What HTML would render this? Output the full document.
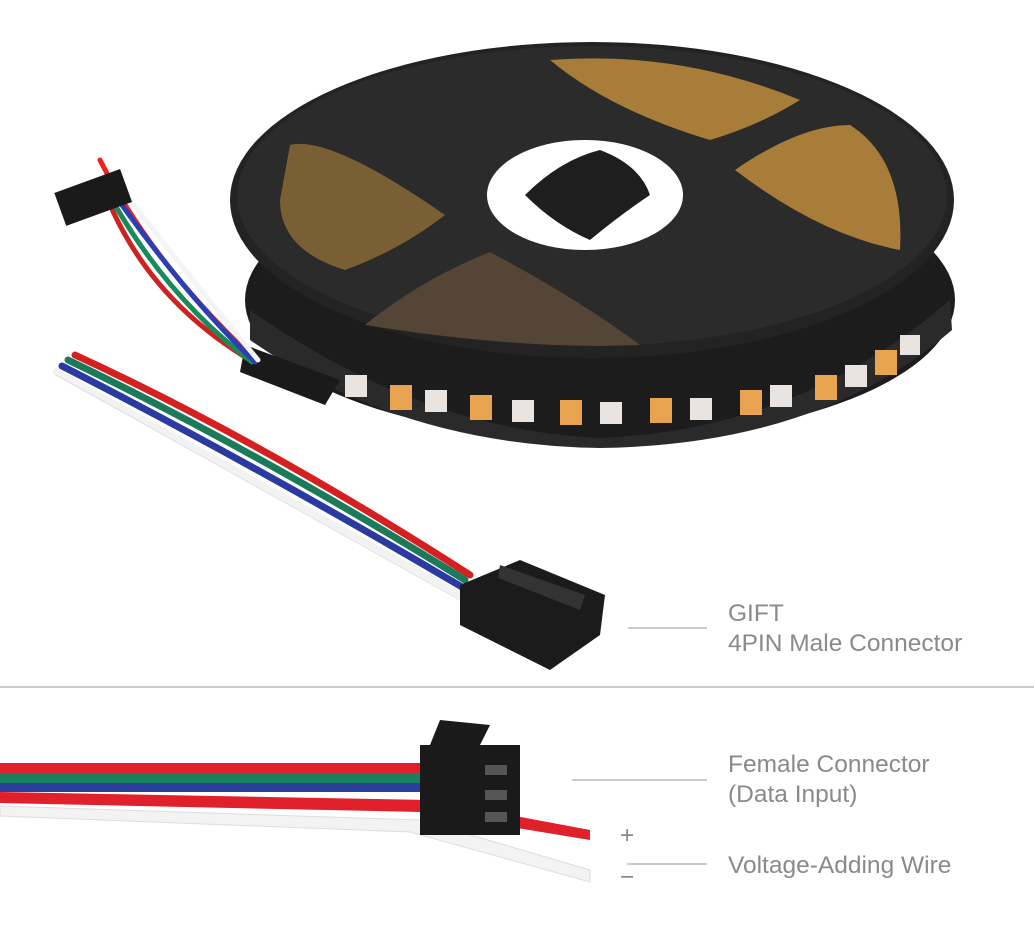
<!DOCTYPE html>
<html><head><meta charset="utf-8"><style>
html,body{margin:0;padding:0;background:#fff;}
svg{display:block}
text{font-family:"Liberation Sans",sans-serif;fill:#8a8a8a;font-size:24.5px}
</style></head><body>
<svg width="1034" height="945" viewBox="0 0 1034 945" xmlns="http://www.w3.org/2000/svg">
<rect width="1034" height="945" fill="#fff"/>
<ellipse cx="600" cy="300" rx="355" ry="140" fill="#1c1c1c"/>
<path d="M250 310 Q420 430 600 438 Q800 430 950 300 L952 330 Q820 445 600 448 Q400 445 250 340Z" fill="#2a2a2a"/>
<g fill="#e8a350">
<rect x="390" y="385" width="22" height="25"/><rect x="470" y="395" width="22" height="25"/><rect x="560" y="400" width="22" height="25"/><rect x="650" y="398" width="22" height="25"/><rect x="740" y="390" width="22" height="25"/><rect x="815" y="375" width="22" height="25"/><rect x="875" y="350" width="22" height="25"/>
</g>
<g fill="#e9e4e0">
<rect x="345" y="375" width="22" height="22"/><rect x="425" y="390" width="22" height="22"/><rect x="512" y="400" width="22" height="22"/><rect x="600" y="402" width="22" height="22"/><rect x="690" y="398" width="22" height="22"/><rect x="770" y="385" width="22" height="22"/><rect x="845" y="365" width="22" height="22"/><rect x="900" y="335" width="20" height="20"/>
</g>
<ellipse cx="592" cy="200" rx="362" ry="158" fill="#232323"/>
<ellipse cx="592" cy="196" rx="355" ry="150" fill="#2b2b2b"/>
<path d="M290 145 Q330 135 445 215 Q400 250 345 270 Q280 250 280 200Z" fill="#7a5e34"/>
<path d="M550 60 Q680 50 800 100 Q760 125 710 140 Q610 110 550 60Z" fill="#a87d3a"/>
<path d="M735 170 Q800 125 850 125 Q905 160 900 250 Q820 235 735 170Z" fill="#a87d3a"/>
<path d="M365 325 Q420 280 490 252 Q580 300 640 345 Q520 350 365 325Z" fill="#554536"/>
<ellipse cx="585" cy="195" rx="98" ry="55" fill="#fff"/>
<path d="M525 195 Q560 160 600 150 Q640 165 650 195 Q620 215 590 240 Q555 225 525 195Z" fill="#1e1e1e"/>
<path d="M245 345 L340 380 L325 405 L240 372Z" fill="#1a1a1a"/>
<g fill="none" stroke-width="5" stroke-linecap="round">
<path d="M100 160 Q150 260 250 355" stroke="#e22"/>
<path d="M108 200 Q150 300 250 360" stroke="#c22"/>
<path d="M115 205 Q170 300 252 362" stroke="#1a8a5a"/>
<path d="M122 205 Q190 300 255 362" stroke="#2b3fb0"/>
<path d="M130 200 Q200 290 258 360" stroke="#f4f4f4"/>
</g>
<rect x="58" y="180" width="70" height="35" fill="#1a1a1a" transform="rotate(-20 93 197)"/>
<g fill="none" stroke-width="7" stroke-linecap="round">
<path d="M75 355 Q260 440 470 575" stroke="#d42020"/>
<path d="M68 360 Q255 450 465 580" stroke="#1a7a5a"/>
<path d="M62 366 Q250 462 462 587" stroke="#2a3aa0"/>
<path d="M56 372 Q245 475 460 595" stroke="#f2f2f2"/>
<path d="M56 375 Q245 480 460 600" stroke="#ddd" stroke-width="1"/>
</g>
<path d="M460 585 L520 560 L605 595 L600 635 L550 670 L460 625Z" fill="#1b1b1b"/>
<path d="M500 565 L585 595 L580 610 L498 578Z" fill="#333"/>
<line x1="628" y1="628" x2="707" y2="628" stroke="#999" stroke-width="1"/>
<text x="728" y="621">GIFT</text>
<text x="728" y="651">4PIN Male Connector</text>
<line x1="0" y1="687" x2="1034" y2="687" stroke="#bbb" stroke-width="1.5"/>
<rect x="0" y="763" width="430" height="10" fill="#e0202a"/>
<rect x="0" y="773" width="430" height="10" fill="#1a8060"/>
<rect x="0" y="783" width="430" height="9" fill="#2a3f9a"/>
<path d="M0 792 L430 800 L590 830 L590 840 L420 812 L0 803Z" fill="#e0202a"/>
<path d="M0 806 L420 820 L590 870 L590 882 L410 832 L0 816Z" fill="#f3f3f3" stroke="#ddd" stroke-width="1"/>
<rect x="420" y="745" width="100" height="90" fill="#1a1a1a"/>
<path d="M430 745 L440 720 L490 725 L480 745Z" fill="#1a1a1a"/>
<rect x="485" y="765" width="22" height="10" fill="#555"/>
<rect x="485" y="790" width="22" height="10" fill="#555"/>
<rect x="485" y="812" width="22" height="10" fill="#555"/>
<line x1="572" y1="780" x2="707" y2="780" stroke="#999" stroke-width="1"/>
<text x="728" y="772">Female Connector</text>
<text x="728" y="802">(Data Input)</text>
<text x="620" y="843" font-size="20">+</text>
<line x1="627" y1="864" x2="707" y2="864" stroke="#999" stroke-width="1"/>
<text x="728" y="873">Voltage-Adding Wire</text>
<text x="620" y="885" font-size="20">−</text>
</svg>
</body></html>
